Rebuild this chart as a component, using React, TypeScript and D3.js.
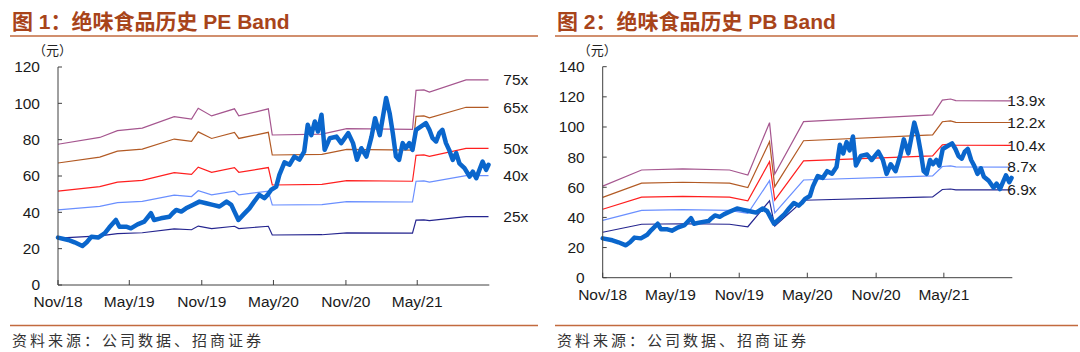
import * as d3 from "d3";

// daily close (yuan)
const price: [string, number][] = [
  ["2018-11-01", 26.1], ["2018-11-27", 24.8], ["2018-12-13", 23.5], ["2019-01-02", 21.5],
  ["2019-01-13", 23.5], ["2019-01-25", 26.6], ["2019-02-11", 26.1], ["2019-02-28", 28.5],
  ["2019-03-11", 31.6], ["2019-03-28", 35.8], ["2019-04-06", 32.1], ["2019-04-23", 32.1],
  ["2019-05-05", 31.2], ["2019-05-22", 33.4], ["2019-06-08", 34.9], ["2019-06-25", 39.5],
  ["2019-07-03", 35.8], ["2019-07-20", 36.7], ["2019-08-11", 37.6], ["2019-08-19", 39.5],
  ["2019-08-28", 41.3], ["2019-09-10", 40.4], ["2019-09-22", 42.2], ["2019-10-09", 44.1],
  ["2019-10-26", 45.9], ["2019-11-12", 45.0], ["2019-11-29", 44.1], ["2019-12-16", 43.2],
  ["2020-01-03", 45.9], ["2020-01-15", 44.1], ["2020-01-23", 40.4], ["2020-02-02", 35.8],
  ["2020-02-14", 38.6], ["2020-03-01", 42.2], ["2020-03-13", 45.9], ["2020-03-26", 49.6],
  ["2020-04-08", 47.8], ["2020-04-16", 49.6], ["2020-04-25", 52.3], ["2020-05-08", 54.2],
  ["2020-05-16", 60.6], ["2020-05-29", 67.5], ["2020-06-11", 66.2], ["2020-06-23", 70.7],
  ["2020-07-06", 69.0], ["2020-07-18", 73.4], ["2020-07-27", 88.2], ["2020-08-05", 82.5],
  ["2020-08-14", 90.0], ["2020-08-22", 84.5], ["2020-08-31", 93.7], ["2020-09-08", 74.4],
  ["2020-09-21", 80.8], ["2020-10-08", 81.7], ["2020-10-20", 78.1], ["2020-11-07", 83.6],
  ["2020-11-19", 78.1], ["2020-11-29", 68.9], ["2020-12-10", 75.3], ["2020-12-23", 70.7],
  ["2021-01-05", 81.7], ["2021-01-14", 91.8], ["2021-01-26", 82.5], ["2021-02-11", 102.9],
  ["2021-02-20", 94.6], ["2021-02-28", 83.6], ["2021-03-08", 70.7], ["2021-03-16", 68.9],
  ["2021-03-25", 78.1], ["2021-04-02", 75.3], ["2021-04-11", 78.1], ["2021-04-19", 74.4],
  ["2021-04-28", 85.4], ["2021-05-10", 87.2], ["2021-05-23", 89.1], ["2021-06-01", 85.4],
  ["2021-06-09", 80.8], ["2021-06-18", 79.0], ["2021-06-26", 83.6], ["2021-07-04", 85.4],
  ["2021-07-13", 78.1], ["2021-07-21", 74.4], ["2021-07-30", 68.9], ["2021-08-08", 72.6],
  ["2021-08-16", 67.0], ["2021-08-29", 64.3], ["2021-09-11", 59.7], ["2021-09-19", 62.4],
  ["2021-09-28", 58.8], ["2021-10-06", 63.4], ["2021-10-14", 67.9], ["2021-10-23", 63.4],
  ["2021-10-29", 66.2],
];

// earnings per share behind the PE bands
const eps: [string, number][] = [
  ["2018-11-01", 1.033], ["2019-02-15", 1.083], ["2019-04-01", 1.133], ["2019-06-03", 1.151],
  ["2019-08-23", 1.236], ["2019-10-06", 1.217], ["2019-10-23", 1.297], ["2019-11-26", 1.241],
  ["2020-01-23", 1.293], ["2020-02-03", 1.241], ["2020-04-18", 1.293], ["2020-04-28", 1.101],
  ["2020-09-01", 1.107], ["2020-11-03", 1.148], ["2021-04-19", 1.142], ["2021-04-28", 1.428],
  ["2021-05-18", 1.432], ["2021-06-01", 1.416], ["2021-09-02", 1.505], ["2021-10-29", 1.505],
];

// book value per share behind the PB bands
const bvps: [string, number][] = [
  ["2018-11-01", 4.37], ["2019-02-13", 5.14], ["2019-06-03", 5.19], ["2019-10-06", 5.14],
  ["2019-11-24", 4.9], ["2020-01-21", 7.4], ["2020-02-04", 4.95], ["2020-04-21", 7.45],
  ["2021-04-01", 7.77], ["2021-04-27", 8.48], ["2021-05-19", 8.53], ["2021-06-02", 8.45],
  ["2021-10-29", 8.44],
];

const peMultiples = [75, 65, 50, 40, 25];
const pbMultiples = [13.9, 12.2, 10.4, 8.7, 6.9];
const bandColors = ["#a5568f", "#b25a24", "#ff1f1f", "#6a8fff", "#25258f"];
const xTicks = ["2018-11-01", "2019-05-01", "2019-11-01", "2020-05-01", "2020-11-01", "2021-05-01"];
const peYTicks = [0, 20, 40, 60, 80, 100, 120];
const pbYTicks = [0, 20, 40, 60, 80, 100, 120, 140];

const parse = d3.timeParse("%Y-%m-%d");
const fmt = d3.timeFormat("%b/%y");
const latin = "'Liberation Sans', Arial, sans-serif";
const cjk = "'Liberation Sans', 'Noto Sans CJK SC', sans-serif";
const accent = "#c26a3e";

type PanelProps = {
  ox: number;
  lineEnd: number;
  title: string;
  left: number;
  right: number;
  top: number;
  bottom: number;
  yTicks: number[];
  base: [string, number][];
  multiples: number[];
  label: (m: number) => string;
  labelDx: number;
};

function Panel(p: PanelProps) {
  const x = d3.scaleTime()
    .domain([parse("2018-11-01")!, parse("2021-10-31")!])
    .range([p.left, p.right]);
  const y = d3.scaleLinear()
    .domain([0, p.yTicks[p.yTicks.length - 1]])
    .range([p.bottom, p.top]);
  const line = d3.line<[string, number]>()
    .x(d => x(parse(d[0])!))
    .y(d => y(d[1]));
  const last = p.base[p.base.length - 1][1];

  return (
    <g>
      <text x={p.ox + 12} y={29} fontFamily={cjk} fontWeight="bold" fontSize={21} fill="#a8441a">{p.title}</text>
      <line x1={p.ox + 10} x2={p.lineEnd} y1={36} y2={36} stroke={accent} strokeWidth={1.6} />
      <text x={p.left - 25} y={55} fontFamily="'Noto Sans CJK SC', sans-serif" fontSize={13} fill="#222">（元）</text>

      {p.multiples.map((m, i) => (
        <path key={m} d={line(p.base.map(d => [d[0], d[1] * m] as [string, number])) ?? ""}
          fill="none" stroke={bandColors[i]} strokeWidth={1.2} />
      ))}
      <path d={line(price) ?? ""} fill="none" stroke="#0a66cc" strokeWidth={4.5} strokeLinejoin="round" strokeLinecap="round" />

      <line x1={p.left} x2={p.left} y1={p.top} y2={p.bottom} stroke="#404040" />
      <line x1={p.left} x2={p.right} y1={p.bottom} y2={p.bottom} stroke="#404040" />
      {p.yTicks.map(t => (
        <g key={t}>
          <line x1={p.left} x2={p.left + 4} y1={y(t)} y2={y(t)} stroke="#404040" />
          <text x={p.left - 18} y={y(t)} dy="0.35em" textAnchor="end" fontFamily={latin} fontSize={15.5} fill="#1a1a1a">{t}</text>
        </g>
      ))}
      {xTicks.map(t => {
        const d = parse(t)!;
        return (
          <g key={t}>
            <line x1={x(d)} x2={x(d)} y1={p.bottom} y2={p.bottom - 5} stroke="#404040" />
            <text x={x(d)} y={p.bottom + 22} textAnchor="middle" fontFamily={latin} fontSize={15.5} fill="#1a1a1a">{fmt(d)}</text>
          </g>
        );
      })}
      {p.multiples.map(m => (
        <text key={m} x={p.right + p.labelDx} y={y(last * m)} dy="0.35em" fontFamily={latin} fontSize={15.5} fill="#1a1a1a">{p.label(m)}</text>
      ))}

      <line x1={p.ox + 10} x2={p.lineEnd} y1={325.5} y2={325.5} stroke={accent} strokeWidth={1.6} />
      <text x={p.ox + 12} y={346} fontFamily="'Noto Sans CJK SC', sans-serif" fontSize={15} letterSpacing={3} fill="#333">资料来源：公司数据、招商证券</text>
    </g>
  );
}

export default function App() {
  return (
    <>
      <style>{"body{margin:0}"}</style>
      <svg width={1080} height={352} style={{ display: "block", background: "#fff" }}>
        <Panel ox={0} lineEnd={538} title="图 1：绝味食品历史 PE Band" left={58} right={489.3} top={67} bottom={285}
          yTicks={peYTicks} base={eps} multiples={peMultiples} label={m => `${m}x`} labelDx={14} />
        <Panel ox={545} lineEnd={1078} title="图 2：绝味食品历史 PB Band" left={602.7} right={1012.3} top={66.7} bottom={277.7}
          yTicks={pbYTicks} base={bvps} multiples={pbMultiples} label={m => `${m.toFixed(1)}x`} labelDx={-5} />
      </svg>
    </>
  );
}
